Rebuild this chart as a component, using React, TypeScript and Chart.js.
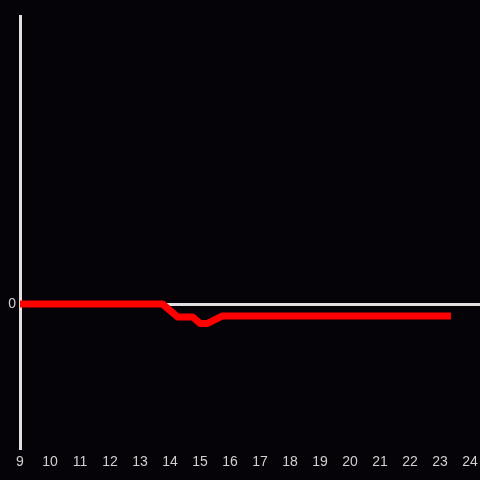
import React, { useEffect, useRef } from "react";
import { Chart, registerables } from "chart.js";

Chart.register(...registerables);

const hours = [9, 13.75, 14.25, 14.75, 15, 15.25, 15.75, 23.25];
const values = [0, 0, -0.09, -0.09, -0.135, -0.135, -0.083, -0.083];
const xTickValues = [9, 10, 11, 12, 13, 14, 15, 16, 17, 18, 19, 20, 21, 22, 23, 24];
const yTickValues = [0];

export default function App() {
  const ref = useRef<HTMLCanvasElement | null>(null);

  useEffect(() => {
    document.body.style.margin = "0";
    document.body.style.background = "#050307";
    const canvas = ref.current;
    if (!canvas) return;
    const chart = new Chart(canvas, {
      type: "line",
      data: {
        datasets: [
          {
            data: hours.map((h, i) => ({ x: h, y: values[i] })),
            borderColor: "#ff0000",
            borderWidth: 7,
            borderCapStyle: "square",
            borderJoinStyle: "round",
            pointRadius: 0,
            tension: 0,
            fill: false,
          },
        ],
      },
      options: {
        responsive: false,
        animation: false,
        devicePixelRatio: 1,
        layout: { padding: { top: 16, left: 0, right: 0, bottom: 0 } },
        plugins: { legend: { display: false }, tooltip: { enabled: false } },
        scales: {
          x: {
            type: "linear",
            min: 9,
            max: 24 + 1 / 3,
            afterBuildTicks: (scale: any) => {
              scale.ticks = xTickValues.map((v) => ({ value: v }));
            },
            afterFit: (scale: any) => {
              scale.height = 32;
              scale.paddingLeft = 0;
              scale.paddingRight = 0;
            },
            ticks: {
              color: "#d0d0d0",
              font: { size: 14, family: "'Liberation Sans', Arial, sans-serif" },
              padding: 6,
              autoSkip: false,
              maxRotation: 0,
              callback: (v: any) => String(v),
            },
            grid: { display: false, drawTicks: false },
            border: { display: false },
          },
          y: {
            type: "linear",
            min: -1,
            max: 2,
            afterBuildTicks: (scale: any) => {
              scale.ticks = yTickValues.map((v) => ({ value: v }));
            },
            afterFit: (scale: any) => {
              scale.width = 20;
              scale.paddingTop = 0;
              scale.paddingBottom = 0;
            },
            ticks: {
              color: "#d0d0d0",
              font: { size: 14, family: "'Liberation Sans', Arial, sans-serif" },
              padding: 4,
              callback: (v: any) => String(v),
            },
            grid: { color: "#e0e0e0", lineWidth: 3, drawTicks: false },
            border: { color: "#e0e0e0", width: 3 },
          },
        },
      },
    } as any);
    return () => chart.destroy();
  }, []);

  return (
    <div style={{ position: "absolute", left: 0, top: 0, width: 480, height: 480, background: "#050307" }}>
      <canvas ref={ref} width={480} height={480} style={{ display: "block", width: 480, height: 480 }} />
    </div>
  );
}
